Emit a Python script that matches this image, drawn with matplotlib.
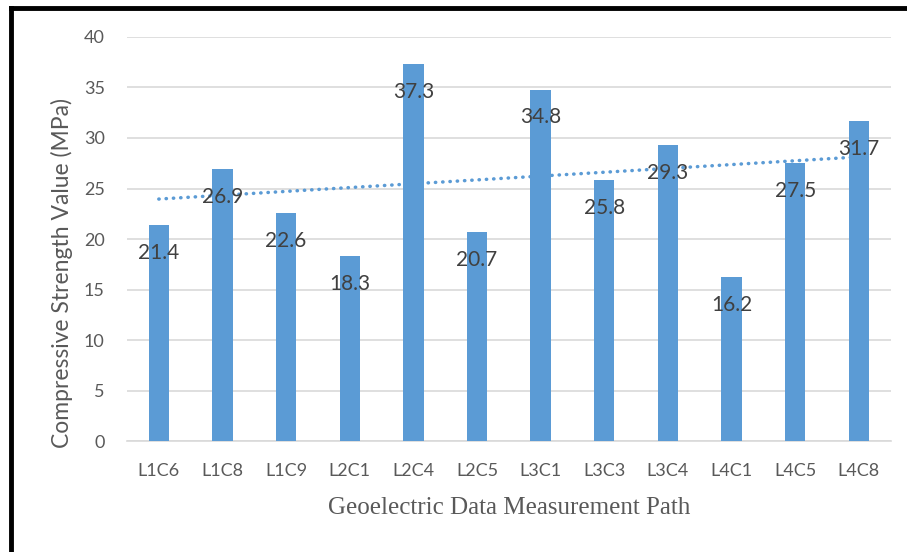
import matplotlib
matplotlib.use("Agg")
import matplotlib.pyplot as plt
import numpy as np
from matplotlib.lines import Line2D

paths = ["L1C6", "L1C8", "L1C9", "L2C1", "L2C4", "L2C5",
         "L3C1", "L3C3", "L3C4", "L4C1", "L4C5", "L4C8"]
strength = [21.4, 26.9, 22.6, 18.3, 37.3, 20.7, 34.8, 25.8, 29.3, 16.2, 27.5, 31.7]
y_ticks = [0, 5, 10, 15, 20, 25, 30, 35, 40]

blue = "#5B9BD5"
grey_text = "#595959"

fig = plt.figure(figsize=(9.07, 5.52), dpi=100)
ax = fig.add_axes([0.140, 0.201, 0.842, 0.732])

x = np.arange(len(paths))
ax.bar(x, strength, width=0.32, color=blue, zorder=3)

# linear trendline through the bars
k, b = np.polyfit(x + 1, strength, 1)
ax.plot(x, k * (x + 1) + b, color=blue, lw=2.5, linestyle=(0, (0.1, 2.0)),
        dash_capstyle="round", zorder=4)

for xi, v in zip(x, strength):
    ax.annotate(f"{v}", (xi, v), xytext=(0, -20), textcoords="offset points",
                ha="center", va="center", fontsize=15, color="#404040",
                family="Lato", zorder=5)

ax.set_xlim(-0.5, len(paths) - 0.5)
ax.set_ylim(0, 40)
ax.set_yticks(y_ticks)
ax.set_yticklabels([str(t) for t in y_ticks], fontsize=13, color=grey_text, family="Lato")
ax.set_xticks(x)
ax.set_xticklabels(paths, fontsize=13, color=grey_text, family="Lato")
ax.tick_params(length=0, pad=16)
ax.tick_params(axis="y", pad=16)
ax.grid(axis="y", color="#D9D9D9", lw=1.2, zorder=0)
for s in ["top", "right", "left"]:
    ax.spines[s].set_visible(False)
ax.spines["bottom"].set_color("#D9D9D9")
ax.spines["bottom"].set_linewidth(1.2)

fig.text(62 / 907, 1 - 273 / 552, "Compressive Strength Value (MPa)", rotation=90,
         ha="center", va="center", fontsize=16.5, color=grey_text, family="Lato")
fig.text(509 / 907, 1 - 508 / 552, "Geoelectric Data Measurement Path",
         ha="center", va="center", fontsize=18, color=grey_text,
         family="Liberation Serif")

# frame lines on the left and top of the picture
fig.add_artist(Line2D([0.0121, 0.0121], [0, 0.986], color="black", lw=3.5,
                      transform=fig.transFigure))
fig.add_artist(Line2D([0.0121, 1.0], [0.986, 0.986], color="black", lw=3.5,
                      transform=fig.transFigure))

fig.savefig("out.png", dpi=100)
